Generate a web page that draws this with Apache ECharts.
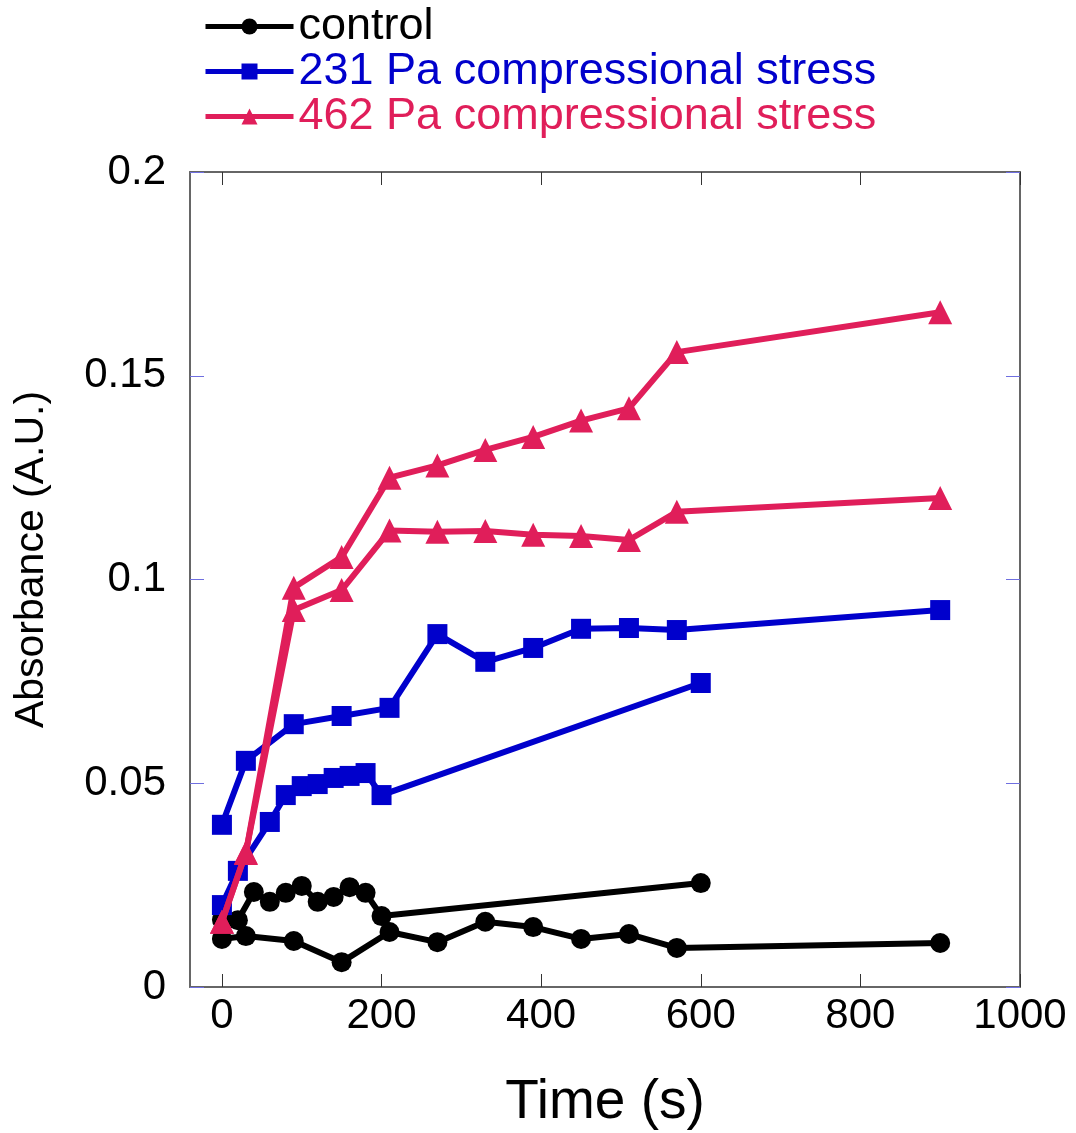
<!DOCTYPE html>
<html>
<head>
<meta charset="utf-8">
<script src="https://cdn.jsdelivr.net/npm/echarts@6/dist/echarts.min.js"></script>
<style>
  html, body { margin: 0; padding: 0; background: #fff; }
  #main { width: 1076px; height: 1133px; }
</style>
</head>
<body>
<div id="main"></div>
<script>
// time points (s)
var timeLong = [0, 30, 90, 150, 210, 270, 330, 390, 450, 510, 570, 900];
var timeCtrlB = [0, 20, 40, 60, 80, 100, 120, 140, 160, 180, 200, 600];
var time231B = [0, 20, 60, 80, 100, 120, 140, 160, 180, 200, 600];

// absorbance values (A.U.)
var controlA = [0.0118, 0.0125, 0.0113, 0.0061, 0.0135, 0.011, 0.016, 0.0147, 0.0118, 0.013, 0.0096, 0.0108];
var controlB = [0.0165, 0.0164, 0.0233, 0.0209, 0.0231, 0.0248, 0.0209, 0.0221, 0.0245, 0.0231, 0.0174, 0.0255];
var pa231A = [0.0398, 0.0555, 0.0645, 0.0665, 0.0685, 0.0866, 0.0798, 0.0832, 0.0879, 0.0881, 0.0876, 0.0925];
var pa231B = [0.0201, 0.0285, 0.0405, 0.0471, 0.0493, 0.0498, 0.0513, 0.0518, 0.0525, 0.0471, 0.0746];
var pa462A = [0.016, 0.0329, 0.098, 0.1055, 0.125, 0.128, 0.1318, 0.135, 0.139, 0.142, 0.1558, 0.1656];
var pa462B = [0.016, 0.033, 0.0925, 0.0974, 0.112, 0.1117, 0.1119, 0.111, 0.1107, 0.1097, 0.1166, 0.12];

var xTicks = [0, 200, 400, 600, 800, 1000];

var colors = ["#000000", "#0000cc", "#e01e5a"];
var names = ["control", "231 Pa compressional stress", "462 Pa compressional stress"];
var font = "Liberation Sans, Arial, Helvetica, sans-serif";

function pairs(xs, ys) {
  var out = [];
  for (var i = 0; i < ys.length; i++) {
    out.push([xs[i], ys[i]]);
  }
  return out;
}

function line(idx, symbol, size, xs, ys) {
  return {
    name: names[idx],
    type: "line",
    data: pairs(xs, ys),
    symbol: symbol,
    symbolSize: size,
    lineStyle: { color: colors[idx], width: 6 },
    itemStyle: { color: colors[idx] },
    z: 3 + idx
  };
}

var myChart = echarts.init(document.getElementById("main"));

var option = {
  animation: false,
  backgroundColor: "#fff",
  legend: {
    orient: "vertical",
    left: 198,
    top: -1,
    itemWidth: 88,
    itemHeight: 20,
    itemGap: 0,
    lineStyle: { width: 5 },
    data: [
      { name: names[0], textStyle: { color: colors[0] } },
      { name: names[1], textStyle: { color: colors[1] } },
      { name: names[2], textStyle: { color: colors[2] } }
    ],
    textStyle: { fontSize: 45, lineHeight: 45, fontFamily: font }
  },
  grid: {
    left: 190,
    right: 56,
    top: 172,
    bottom: 146,
    outerBoundsMode: "none"
  },
  xAxis: [
    {
      type: "value",
      min: -40,
      max: 1000,
      name: "Time (s)",
      nameLocation: "middle",
      nameGap: 88,
      nameTextStyle: { fontSize: 55, fontFamily: font, color: "#000" },
      axisLine: { show: true, onZero: false, lineStyle: { color: "#666", width: 2 } },
      axisTick: { show: true, inside: true, length: 13, customValues: xTicks, lineStyle: { color: "#333", width: 1 } },
      axisLabel: {
        fontSize: 42, fontFamily: font, color: "#000", margin: 8,
        customValues: xTicks,
        formatter: function (v) { return String(v); }
      },
      splitLine: { show: false }
    },
    {
      type: "value",
      position: "top",
      min: -40,
      max: 1000,
      axisLine: { show: true, onZero: false, lineStyle: { color: "#666", width: 2 } },
      axisTick: { show: true, inside: true, length: 13, customValues: xTicks, lineStyle: { color: "#333", width: 1 } },
      axisLabel: { show: false },
      splitLine: { show: false }
    }
  ],
  yAxis: [
    {
      type: "value",
      min: 0,
      max: 0.2,
      interval: 0.05,
      name: "Absorbance (A.U.)",
      nameLocation: "middle",
      nameGap: 138,
      nameTextStyle: { fontSize: 41, fontFamily: font, color: "#000", padding: [0, 0, 0, 40] },
      axisLine: { show: true, onZero: false, lineStyle: { color: "#666", width: 2 } },
      axisTick: { show: true, inside: true, length: 14, lineStyle: { color: "#6f6fe0", width: 1 } },
      axisLabel: {
        fontSize: 42, fontFamily: font, color: "#000", margin: 24,
        formatter: function (v) { return String(+v.toFixed(2)); }
      },
      splitLine: { show: false }
    },
    {
      type: "value",
      position: "right",
      min: 0,
      max: 0.2,
      interval: 0.05,
      axisLine: { show: true, onZero: false, lineStyle: { color: "#666", width: 2 } },
      axisTick: { show: true, inside: true, length: 14, lineStyle: { color: "#6f6fe0", width: 1 } },
      axisLabel: { show: false },
      splitLine: { show: false }
    }
  ],
  series: [
    line(0, "circle", 20, timeLong, controlA),
    line(0, "circle", 20, timeCtrlB, controlB),
    line(1, "rect", 20, timeLong, pa231A),
    line(1, "rect", 20, time231B, pa231B),
    line(2, "triangle", 24, timeLong, pa462A),
    line(2, "triangle", 24, timeLong, pa462B)
  ]
};

myChart.setOption(option);
</script>
</body>
</html>
